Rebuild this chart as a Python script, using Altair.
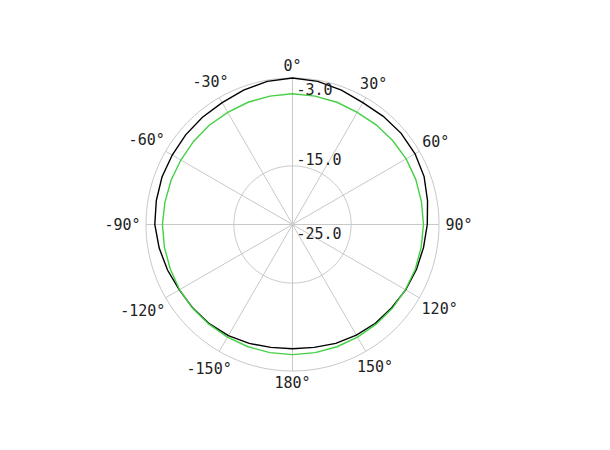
import altair as alt
import pandas as pd

# ---- data ----
angle_deg = list(range(-180, 181, 10))
measured_db = [-3.8, -3.7, -3.4, -3.1, -2.9, -2.8, -2.7, -2.3, -1.9, -1.5,
               -1.4, -1.3, -1.3, -1.2, -1.1, -1.0, -0.6, -0.2, 0.0, -0.2,
               -0.6, -1.0, -0.9, -0.8, -0.85, -1.1, -1.6, -2.0, -2.3, -2.5,
               -2.7, -2.9, -3.0, -3.2, -3.4, -3.7, -3.8]
reference_db = [-2.8, -2.8, -2.8, -2.8, -2.8, -2.75, -2.75, -2.8, -2.8, -2.8,
                -2.9, -2.95, -3.0, -2.95, -2.9, -2.9, -2.8, -2.75, -2.7, -2.75,
                -2.8, -2.9, -2.8, -2.7, -2.6, -2.6, -2.65, -2.65, -2.7, -2.7,
                -2.75, -2.75, -2.8, -2.8, -2.8, -2.8, -2.8]

ring_db = [-15.0, 0.0]
spoke_deg = [0, 30, 60, 90, 120, 150, 180, 210, 240, 270, 300, 330]
angle_label_deg = [0, 30, 60, 90, 120, 150, 180, -150, -120, -90, -60, -30]
angle_label_text = ["0°", "30°", "60°", "90°", "120°", "150°", "180°",
                    "-150°", "-120°", "-90°", "-60°", "-30°"]
radial_label_db = [-3.0, -15.0]
radial_label_text = ["-3.0", "-15.0"]
center_label_db = [-25.0]
center_label_text = ["-25.0"]

DB_MIN, DB_MAX = -25.0, 0.0
SPAN = DB_MAX - DB_MIN

# ---- tables ----
curves = pd.DataFrame({
    "angle": angle_deg * 2,
    "db": measured_db + reference_db,
    "series": ["measured"] * len(angle_deg) + ["reference"] * len(angle_deg),
})

ring_rows = []
for lvl in ring_db:
    for a in range(0, 361, 2):
        ring_rows.append({"ring": lvl, "angle": a, "db": lvl})
rings = pd.DataFrame(ring_rows)

spokes = pd.DataFrame({"angle": spoke_deg})
alabels = pd.DataFrame({"angle": angle_label_deg, "label": angle_label_text})
rlabels = pd.DataFrame({"db": radial_label_db, "label": radial_label_text})
clabels = pd.DataFrame({"db": center_label_db, "label": center_label_text})

xs = alt.Scale(domain=[-SPAN, SPAN], nice=False, zero=False)
ys = alt.Scale(domain=[-SPAN, SPAN], nice=False, zero=False)

def px(field_r, field_a="datum.angle"):
    return f"({field_r}) * sin({field_a} * PI / 180)"

def py(field_r, field_a="datum.angle"):
    return f"({field_r}) * cos({field_a} * PI / 180)"

R = f"(datum.db - ({DB_MIN}))"

grid_color = "#c8c8c8"
FONT = "DejaVu Sans Mono"

ring_layer = alt.Chart(rings).transform_calculate(
    x=px(R), y=py(R)
).mark_line(color=grid_color, strokeWidth=1).encode(
    x=alt.X("x:Q", scale=xs, axis=None),
    y=alt.Y("y:Q", scale=ys, axis=None),
    detail="ring:N",
    order="angle:Q",
)

spoke_layer = alt.Chart(spokes).transform_calculate(
    x0="0", y0="0", x1=px(str(SPAN)), y1=py(str(SPAN))
).mark_rule(color=grid_color, strokeWidth=1).encode(
    x=alt.X("x0:Q", scale=xs, axis=None),
    y=alt.Y("y0:Q", scale=ys, axis=None),
    x2="x1:Q",
    y2="y1:Q",
)

curve_layer = alt.Chart(curves).transform_calculate(
    x=px(R), y=py(R)
).mark_line(strokeWidth=1.4).encode(
    x=alt.X("x:Q", scale=xs, axis=None),
    y=alt.Y("y:Q", scale=ys, axis=None),
    color=alt.Color("series:N",
                    scale=alt.Scale(domain=["reference", "measured"],
                                    range=["#44d044", "#000000"]),
                    legend=None),
    order="angle:Q",
)

# label radius: a little further out for wide (side / lower / minus-signed) labels
LR = (f"({SPAN} + 2.0 + 1.4 * abs(sin(datum.angle * PI / 180))"
      f" + (cos(datum.angle * PI / 180) < 0 ? 0.9 * abs(sin(datum.angle * PI / 180)) : 0)"
      f" + (datum.angle < 0 ? 0.6 * abs(sin(datum.angle * PI / 180)) : 0))")
angle_label_layer = alt.Chart(alabels).transform_calculate(
    x=px(LR), y=py(LR)
).mark_text(font=FONT, fontSize=15, color="#222222",
            align="center", baseline="middle").encode(
    x=alt.X("x:Q", scale=xs, axis=None),
    y=alt.Y("y:Q", scale=ys, axis=None),
    text="label:N",
)

radial_label_layer = alt.Chart(rlabels).transform_calculate(
    x="0", y=R
).mark_text(font=FONT, fontSize=15, color="#222222",
            align="left", baseline="alphabetic", dx=4, dy=-1).encode(
    x=alt.X("x:Q", scale=xs, axis=None),
    y=alt.Y("y:Q", scale=ys, axis=None),
    text="label:N",
)

center_label_layer = alt.Chart(clabels).transform_calculate(
    x="0", y=R
).mark_text(font=FONT, fontSize=15, color="#222222",
            align="left", baseline="top", dx=4, dy=2).encode(
    x=alt.X("x:Q", scale=xs, axis=None),
    y=alt.Y("y:Q", scale=ys, axis=None),
    text="label:N",
)

chart = alt.layer(
    ring_layer, spoke_layer, curve_layer,
    angle_label_layer, radial_label_layer, center_label_layer
).properties(
    width=293, height=293,
    autosize=alt.AutoSizeParams(type="none"),
    padding={"left": 138, "top": 70, "right": 120, "bottom": 60},
    background="white",
).configure_view(stroke=None)

chart.save("out.html", embed_options={"renderer": "svg", "actions": False})
